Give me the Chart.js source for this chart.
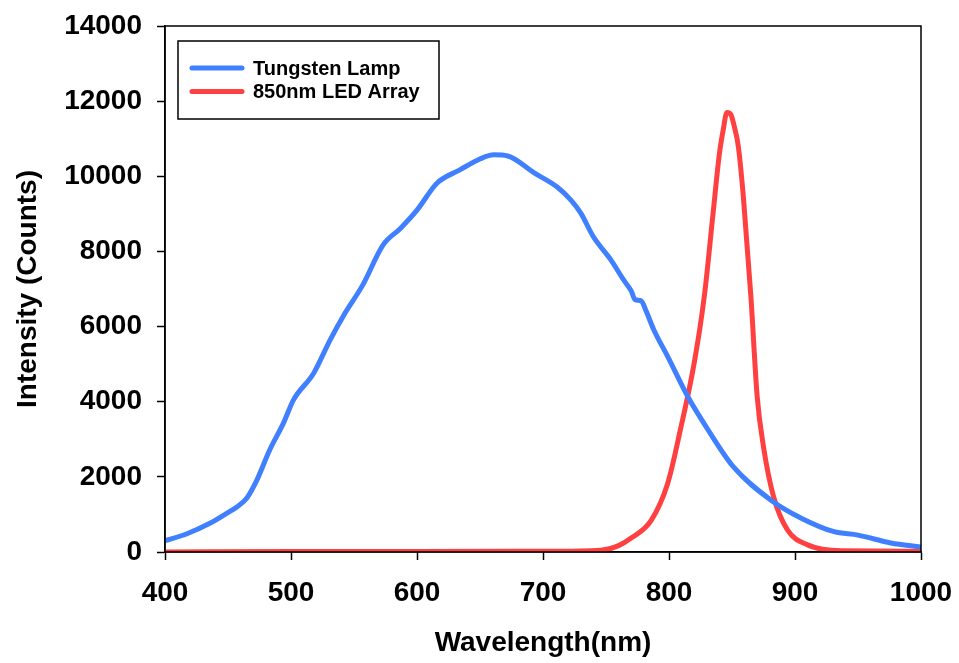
<!DOCTYPE html>
<html>
<head>
<meta charset="utf-8">
<script src="https://cdn.jsdelivr.net/npm/chart.js@4.4.1/dist/chart.umd.min.js"></script>
<style>
  html, body { margin: 0; padding: 0; background: #fff; }
  #wrap { width: 959px; height: 663px; }
</style>
</head>
<body>
<div id="wrap"><canvas id="chart"></canvas></div>
<script>
// ─── Data ─────────────────────────────────────────────────────────────────
const SERIES_NAMES = ['Tungsten Lamp', '850nm LED Array'];

const lampNm = [400, 417, 436, 450, 457, 465, 473, 483, 494, 502, 518, 531, 542, 557, 573, 587,
  600, 616, 634, 650, 661, 672, 693, 711, 722, 730, 740, 754, 764, 770, 773, 778, 782, 788,
  799, 815, 831, 851, 881, 905, 931, 950, 976, 1000];
const lampCounts = [300, 480, 770, 1050, 1200, 1440, 1920, 2710, 3430, 4050, 4760, 5640, 6310, 7110, 8170, 8620,
  9100, 9820, 10170, 10460, 10570, 10540, 10090, 9720, 9370, 9020, 8390, 7770, 7240, 6950, 6720, 6680, 6400, 5910,
  5200, 4130, 3250, 2270, 1380, 900, 540, 450, 240, 130];

const ledNm = [400, 500, 600, 700, 746, 760, 770, 786, 799, 809, 820, 828, 835, 840, 843, 846,
  849, 852, 855, 859, 865, 870, 875, 883, 894, 910, 937, 1000];
const ledCounts = [0, 10, 10, 20, 50, 170, 370, 850, 1830, 3250, 5030, 6800, 9020, 10600, 11230, 11700,
  11650, 11300, 10800, 9460, 6800, 4130, 2800, 1470, 590, 190, 30, 20];

const COLORS = ['#4080FF', '#FF4040'];
const FONT = 'Liberation Sans, Arial, sans-serif';

const toPoints = (xs, ys) => xs.map((x, i) => ({ x, y: ys[i] }));

// ─── Plugins ──────────────────────────────────────────────────────────────
// box around the plot area (top + right edges)
const frame = {
  id: 'frame',
  afterDraw(chart) {
    const { ctx, chartArea: a } = chart;
    ctx.save();
    ctx.strokeStyle = '#000';
    ctx.lineWidth = 1.5;
    ctx.strokeRect(a.left, a.top, a.right - a.left, a.bottom - a.top);
    ctx.restore();
  },
};

// boxed legend inside the plot, top-left
const boxLegend = {
  id: 'boxLegend',
  afterDraw(chart) {
    const { ctx } = chart;
    ctx.save();
    ctx.fillStyle = '#fff';
    ctx.fillRect(178, 41, 261, 78);
    ctx.strokeStyle = '#000';
    ctx.lineWidth = 1.5;
    ctx.strokeRect(178, 41, 261, 78);
    ctx.font = 'bold 20px ' + FONT;
    ctx.textBaseline = 'middle';
    chart.data.datasets.forEach((ds, i) => {
      const y = 68 + i * 23.5;
      ctx.strokeStyle = ds.borderColor;
      ctx.lineWidth = 5;
      ctx.lineCap = 'round';
      ctx.beginPath();
      ctx.moveTo(192, y);
      ctx.lineTo(242, y);
      ctx.stroke();
      ctx.fillStyle = '#000';
      ctx.fillText(ds.label, 253, y + 1);
    });
    ctx.restore();
  },
};

const plain = v => String(v);

// ─── Chart ────────────────────────────────────────────────────────────────
new Chart(document.getElementById('chart'), {
  type: 'line',
  data: {
    datasets: [
      { label: SERIES_NAMES[0], data: toPoints(lampNm, lampCounts), borderColor: COLORS[0] },
      { label: SERIES_NAMES[1], data: toPoints(ledNm, ledCounts), borderColor: COLORS[1] },
    ].map(ds => ({
      ...ds,
      borderWidth: 5,
      pointRadius: 0,
      fill: false,
      cubicInterpolationMode: 'monotone',
      borderCapStyle: 'round',
      borderJoinStyle: 'round',
    })),
  },
  options: {
    responsive: true,
    maintainAspectRatio: false,
    animation: false,
    layout: { padding: { top: 26, right: 38, left: 0, bottom: 0 } },
    plugins: { legend: { display: false }, tooltip: { enabled: false } },
    scales: {
      x: {
        type: 'linear',
        min: 400,
        max: 1000,
        afterFit: s => { s.height = 111; s.paddingLeft = 0; s.paddingRight = 0; },
        ticks: { stepSize: 100, callback: plain, color: '#000', padding: 16, font: { family: FONT, size: 28, weight: 'bold' } },
        grid: { drawOnChartArea: false, tickLength: 8, tickColor: '#000', tickWidth: 1.5 },
        border: { color: '#000', width: 1.5 },
        title: {
          display: true, text: 'Wavelength(nm)', color: '#000',
          font: { family: FONT, size: 28, weight: 'bold' }, padding: { top: 0, bottom: 3 },
        },
      },
      y: {
        min: 0,
        max: 14000,
        afterFit: s => { s.width = 165; s.paddingTop = 0; s.paddingBottom = 0; },
        ticks: { stepSize: 2000, callback: plain, color: '#000', padding: 15, font: { family: FONT, size: 28, weight: 'bold' } },
        grid: { drawOnChartArea: false, tickLength: 8, tickColor: '#000', tickWidth: 1.5 },
        border: { color: '#000', width: 1.5 },
        title: {
          display: true, text: 'Intensity (Counts)', color: '#000',
          font: { family: FONT, size: 28, weight: 'bold' }, padding: { top: 11, bottom: 0 },
        },
      },
    },
  },
  plugins: [frame, boxLegend],
});
</script>
</body>
</html>
